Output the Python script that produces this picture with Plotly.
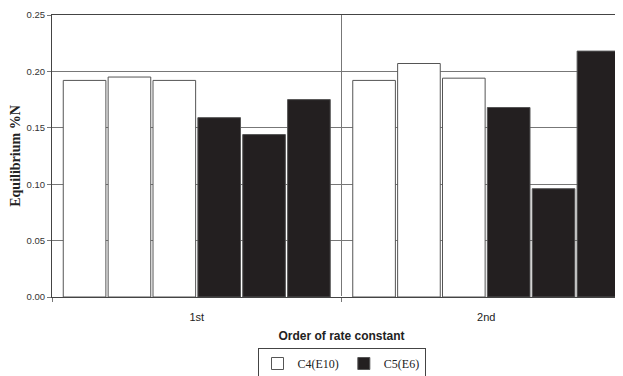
import plotly.graph_objects as go

categories = ["1st", "2nd"]
# three white bars (C4(E10)) and three black bars (C5(E6)) per category
c4_bar1 = [0.192, 0.192]
c4_bar2 = [0.195, 0.207]
c4_bar3 = [0.192, 0.194]
c5_bar1 = [0.159, 0.168]
c5_bar2 = [0.144, 0.096]
c5_bar3 = [0.175, 0.218]

y_ticks = [0.00, 0.05, 0.10, 0.15, 0.20, 0.25]

fig = go.Figure()
series = [
    ("C4(E10)", c4_bar1, "white", True),
    ("C4(E10)", c4_bar2, "white", False),
    ("C4(E10)", c4_bar3, "white", False),
    ("C5(E6)", c5_bar1, "#231f20", True),
    ("C5(E6)", c5_bar2, "#231f20", False),
    ("C5(E6)", c5_bar3, "#231f20", False),
]
for name, vals, color, show in series:
    fig.add_trace(go.Bar(
        x=categories, y=vals, name=name, legendgroup=name, showlegend=show,
        marker=dict(color=color, line=dict(color="#555555", width=1)),
    ))

fig.update_layout(
    width=623, height=376,
    margin=dict(l=44, r=0, t=7, b=87),
    paper_bgcolor="white", plot_bgcolor="white",
    barmode="group", bargap=0.07, bargroupgap=0.05,
    showlegend=True,
    legend=dict(
        orientation="h", x=0.5, xanchor="center",
        yref="container", y=1 - 340 / 376, yanchor="top",
        bordercolor="#444444", borderwidth=1,
        font=dict(family="Liberation Serif, Times New Roman, serif", size=12, color="#222222"),
        itemwidth=30, tracegroupgap=0,
    ),
    xaxis=dict(
        automargin=False,
        tickson="boundaries", showgrid=True, gridcolor="#777777", gridwidth=1,
        ticks="outside", ticklen=4, tickcolor="#777777",
        showline=True, linecolor="#444444", linewidth=1, mirror=True,
        ticklabelstandoff=10,
        tickfont=dict(family="Liberation Sans, Arial, sans-serif", size=11, color="#222222"),
        title=dict(text="<b>Order of rate constant</b>", standoff=9,
                   font=dict(family="Liberation Sans, Arial, sans-serif", size=12, color="#222222")),
    ),
    yaxis=dict(
        automargin=False,
        range=[0, 0.25], tickvals=y_ticks, tickformat=".2f",
        showgrid=True, gridcolor="#777777", gridwidth=1,
        ticks="outside", ticklen=4, tickcolor="#777777",
        showline=True, linecolor="#444444", linewidth=1,
        tickfont=dict(family="Liberation Sans, Arial, sans-serif", size=9.5, color="#333333"),
        title=dict(text="<b>Equilibrium %N</b>", standoff=8,
                   font=dict(family="Liberation Serif, Times New Roman, serif", size=14, color="#222222")),
    ),
)

fig.write_html("out.html")
